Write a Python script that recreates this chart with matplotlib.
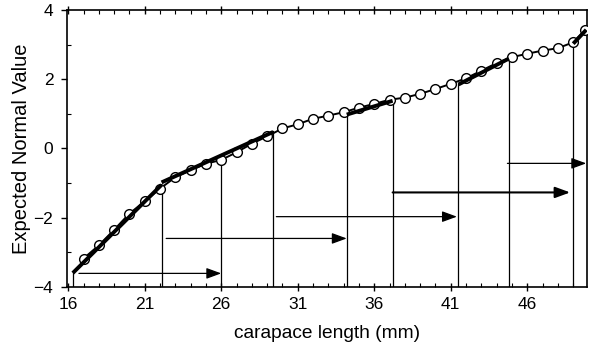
import matplotlib.pyplot as plt
from matplotlib.ticker import MultipleLocator, FixedLocator

plt.rcParams['font.family'] = ['Liberation Sans', 'DejaVu Sans']

# observed points (carapace length, expected normal value)
length_mm = [17, 18, 19, 20, 21, 22, 23, 24, 25, 26, 27, 28, 29, 30, 31, 32, 33,
             34, 35, 36, 37, 38, 39, 40, 41, 42, 43, 44, 45, 46, 47, 48, 49, 49.8]
normal_val = [-3.18, -2.80, -2.35, -1.88, -1.53, -1.16, -0.83, -0.63, -0.44, -0.33,
              -0.11, 0.14, 0.35, 0.58, 0.70, 0.86, 0.95, 1.05, 1.18, 1.29, 1.41,
              1.47, 1.58, 1.72, 1.87, 2.03, 2.25, 2.47, 2.64, 2.74, 2.83, 2.90,
              3.07, 3.43]

# fitted segments (x0, x1, y0, y1)
fit_x0 = [16.3, 22.1, 34.2, 41.5, 49.0]
fit_x1 = [22.1, 29.4, 37.2, 44.8, 49.85]
fit_y0 = [-3.60, -0.98, 0.98, 1.85, 3.03]
fit_y1 = [-1.05, 0.48, 1.38, 2.60, 3.43]

# breakpoints (vertical drop lines)
break_x = [16.3, 22.1, 26.0, 29.4, 34.2, 37.2, 41.5, 44.8, 49.0]
break_y = [-3.60, -1.07, -0.33, 0.50, 1.00, 1.38, 1.85, 2.60, 3.03]

# arrows (start, end, level)
arrow_x0 = [16.7, 22.4, 29.6, 37.2, 44.7]
arrow_x1 = [26.0, 34.2, 41.4, 48.8, 49.85]
arrow_y = [-3.61, -2.60, -1.97, -1.27, -0.43]
arrow_lw = [0.9, 0.9, 0.9, 1.5, 0.9]

fig = plt.figure(figsize=(5.89, 3.49), dpi=100)
ax = fig.add_axes([0.114, 0.178, 0.8826, 0.793])

for x, y in zip(break_x, break_y):
    ax.plot([x, x], [-4, y], color='black', lw=0.9)

ax.plot(length_mm, normal_val, color='black', lw=1.4, marker='o', ms=7,
        mfc='white', mec='black', mew=1.0, zorder=3)

for x0, x1, y0, y1 in zip(fit_x0, fit_x1, fit_y0, fit_y1):
    ax.plot([x0, x1], [y0, y1], color='black', lw=2.8, solid_capstyle='butt', zorder=4)

for x0, x1, y, lw in zip(arrow_x0, arrow_x1, arrow_y, arrow_lw):
    ax.annotate('', xy=(x1, y), xytext=(x0, y),
                arrowprops=dict(arrowstyle='-|>,head_length=0.9,head_width=0.33',
                                color='black', lw=lw, shrinkA=0, shrinkB=0))

ax.set_xlim(15.93, 49.9)
ax.set_ylim(-4, 4)
ax.xaxis.set_major_locator(FixedLocator([16, 21, 26, 31, 36, 41, 46]))
ax.xaxis.set_minor_locator(MultipleLocator(1))
ax.yaxis.set_major_locator(MultipleLocator(2))
ax.yaxis.set_minor_locator(MultipleLocator(1))

ax.tick_params(axis='x', which='major', direction='inout', length=6, width=1,
               top=True, labelsize=12.5, pad=4)
ax.tick_params(axis='x', which='minor', direction='in', length=3, width=0.8, top=True)
ax.tick_params(axis='y', which='major', direction='out', length=4, width=1, labelsize=12.5, pad=6)
ax.tick_params(axis='y', which='minor', direction='in', length=3, width=0.8)
for lab in ax.get_xticklabels() + ax.get_yticklabels():
    lab.set_family(['Liberation Sans Narrow', 'Liberation Sans'])

for s in ax.spines.values():
    s.set_linewidth(1.2)

ax.set_xlabel('carapace length (mm)', fontsize=13.8, labelpad=9.5)
ax.set_ylabel('Expected Normal Value', fontsize=14.5, labelpad=2)

fig.savefig('out.png', dpi=100)
